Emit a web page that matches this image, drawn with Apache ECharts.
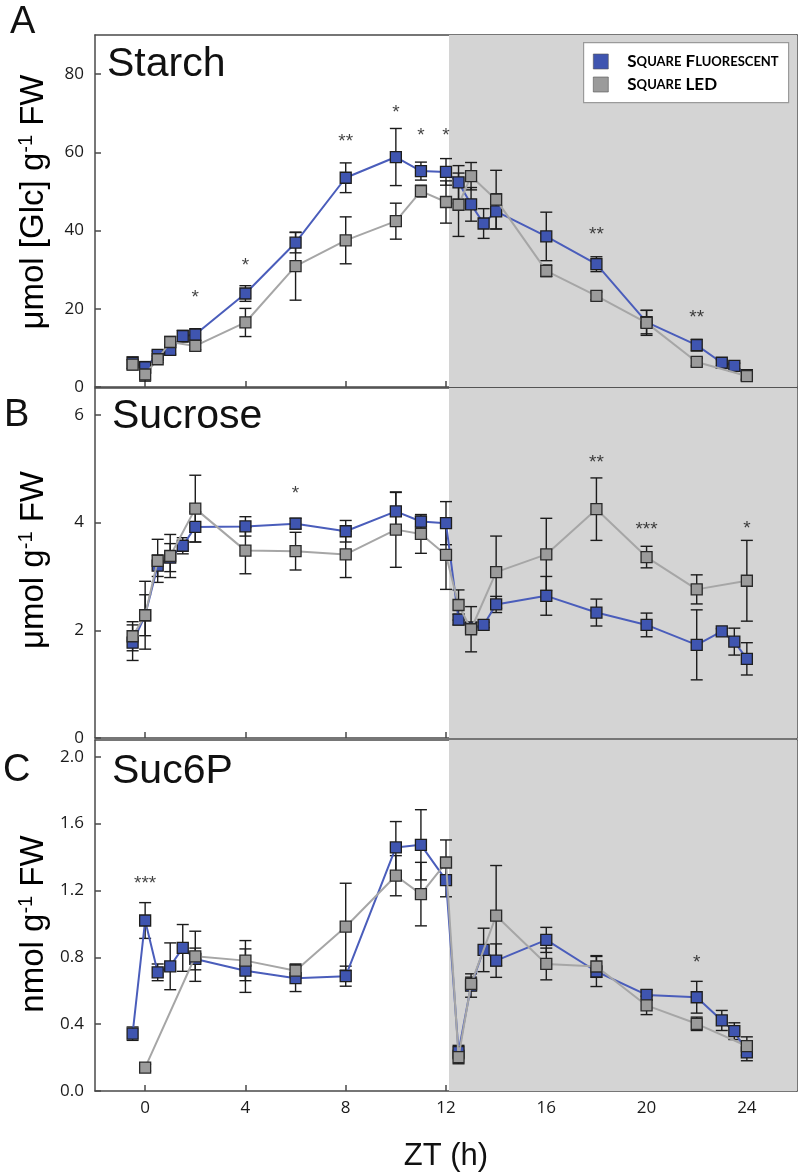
<!DOCTYPE html>
<html><head><meta charset="utf-8">
<script src="https://cdn.jsdelivr.net/npm/echarts@6/dist/echarts.min.js"></script>
<style>html,body{margin:0;padding:0;background:#fff}#c{width:800px;height:1175px}</style>
</head><body><div id="c"></div>
<script>
// ---------- DATA ----------
const seriesNames = ['Square Fluorescent', 'Square LED'];
const panelTitles = ['Starch', 'Sucrose', 'Suc6P'];
const panelLetters = ['A', 'B', 'C'];
const xLabel = 'ZT (h)';
const xTicks = [0, 4, 8, 12, 16, 20, 24];
const yTicksA = [0, 20, 40, 60, 80];
const yTicksB = [0, 2, 4, 6];
const yTicksC = [0, 0.4, 0.8, 1.2, 1.6, 2.0];
const nightStart = 12.12;

// sampling times (ZT, h)
const xFluor = [-0.5, 0, 0.5, 1, 1.5, 2, 4, 6, 8, 10, 11, 12, 12.5, 13, 13.5, 14, 16, 18, 20, 22, 23, 23.5, 24];
const xLedAB = [-0.5, 0, 0.5, 1, 2, 4, 6, 8, 10, 11, 12, 12.5, 13, 14, 16, 18, 20, 22, 24];
const xLedC  = [0, 2, 4, 6, 8, 10, 11, 12, 12.5, 13, 14, 16, 18, 20, 22, 24];

// A: Starch (umol Glc g-1 FW)
const starchFluor    = [6.2, 5.0, 8.2, 9.5, 13.0, 13.4, 23.9, 36.9, 53.5, 58.8, 55.2, 55.0, 52.3, 46.7, 41.8, 44.9, 38.5, 31.4, 16.6, 10.7, 6.2, 5.4, 3.0];
const starchFluorErr = [1.5, 1.5, 1.0, 1.1, 1.5, 1.5, 2.0, 2.6, 3.8, 7.3, 2.3, 3.4, 4.3, 4.3, 3.8, 4.5, 6.2, 1.9, 3.0, 1.5, 0.8, 0.7, 1.0];
const starchLed      = [5.7, 3.2, 7.1, 11.5, 10.5, 16.5, 30.9, 37.5, 42.4, 50.1, 47.3, 46.6, 53.9, 47.9, 29.7, 23.3, 16.4, 6.4, 2.8];
const starchLedErr   = [1.3, 1.7, 0.8, 1.4, 1.0, 3.6, 8.7, 6.0, 4.6, 1.5, 5.4, 8.1, 3.5, 7.5, 1.5, 1.0, 3.2, 1.0, 1.0];
const starsA = [[2, 24.0, '*'], [4, 32.4, '*'], [8, 64.1, '**'], [10, 71.3, '*'], [11, 65.5, '*'], [12, 65.5, '*'], [18, 40.1, '**'], [22, 19.1, '**']];

// B: Sucrose (umol g-1 FW)
const sucFluor    = [1.77, 2.28, 3.2, 3.35, 3.57, 3.92, 3.93, 3.98, 3.84, 4.21, 4.02, 3.99, 2.2, 2.05, 2.1, 2.48, 2.64, 2.33, 2.1, 1.73, 1.98, 1.79, 1.47];
const sucFluorErr = [0.33, 0.38, 0.2, 0.26, 0.15, 0.28, 0.18, 0.1, 0.2, 0.35, 0.1, 0.4, 0.1, 0.1, 0.05, 0.15, 0.36, 0.25, 0.22, 0.65, 0.05, 0.25, 0.3];
const sucLed      = [1.89, 2.28, 3.29, 3.38, 4.26, 3.48, 3.47, 3.41, 3.87, 3.79, 3.4, 2.47, 2.02, 3.08, 3.41, 4.25, 3.36, 2.76, 2.92];
const sucLedErr   = [0.27, 0.63, 0.4, 0.4, 0.62, 0.43, 0.35, 0.43, 0.7, 0.36, 0.64, 0.28, 0.42, 0.67, 0.67, 0.58, 0.2, 0.27, 0.75];
const starsB = [[6, 4.62, '*'], [18, 5.2, '**'], [20, 3.96, '***'], [24, 3.97, '*']];

// C: Suc6P (nmol g-1 FW)
const s6pFluor    = [0.343, 1.02, 0.71, 0.746, 0.856, 0.79, 0.72, 0.675, 0.687, 1.457, 1.473, 1.262, 0.233, 0.631, 0.844, 0.78, 0.904, 0.715, 0.575, 0.561, 0.422, 0.358, 0.231];
const s6pFluorErr = [0.04, 0.107, 0.05, 0.14, 0.14, 0.065, 0.13, 0.08, 0.06, 0.155, 0.21, 0.1, 0.04, 0.07, 0.13, 0.1, 0.075, 0.09, 0.03, 0.095, 0.06, 0.05, 0.05];
const s6pLed      = [0.14, 0.806, 0.78, 0.72, 0.983, 1.288, 1.178, 1.367, 0.203, 0.641, 1.049, 0.76, 0.745, 0.512, 0.402, 0.269];
const s6pLedErr   = [0.02, 0.15, 0.12, 0.04, 0.26, 0.12, 0.19, 0.135, 0.04, 0.04, 0.3, 0.095, 0.065, 0.055, 0.04, 0.055];
const starsC = [[0, 1.27, '***'], [22, 0.80, '*']];

// ---------- STYLE / LAYOUT ----------
const BLUE = '#3f55b0', BLUE_LINE = '#4a5dbb';
const GRAY = '#9b9b9b', GRAY_LINE = '#a6a6a6';
const AXIS = '#4a4a4a';
const NUMFONT = "'Open Sans', sans-serif";
const TXTFONT = "'Liberation Sans', Arial, sans-serif";

const panels = [
  {top: 35, height: 352, max: 90, ticks: yTicksA, fmt: v => String(v),
   fl: starchFluor, flE: starchFluorErr, led: starchLed, ledE: starchLedErr, xLed: xLedAB, stars: starsA},
  {top: 388, height: 350, max: 6.5, ticks: yTicksB, fmt: v => String(v),
   fl: sucFluor, flE: sucFluorErr, led: sucLed, ledE: sucLedErr, xLed: xLedAB, stars: starsB},
  {top: 740, height: 351, max: 2.1, ticks: yTicksC, fmt: v => v.toFixed(1),
   fl: s6pFluor, flE: s6pFluorErr, led: s6pLed, ledE: s6pLedErr, xLed: xLedC, stars: starsC}
];

function errRender(params, api) {
  const x = api.value(0), lo = api.value(1), hi = api.value(2);
  const p1 = api.coord([x, lo]), p2 = api.coord([x, hi]);
  const w = 6;
  const st = {stroke: '#1c1c1c', lineWidth: 1.4};
  return {type: 'group', children: [
    {type: 'line', shape: {x1: p1[0], y1: p1[1], x2: p2[0], y2: p2[1]}, style: st},
    {type: 'line', shape: {x1: p1[0] - w, y1: p1[1], x2: p1[0] + w, y2: p1[1]}, style: st},
    {type: 'line', shape: {x1: p2[0] - w, y1: p2[1], x2: p2[0] + w, y2: p2[1]}, style: st}
  ]};
}
function shadeRender(params, api) {
  const cs = params.coordSys;
  const p = api.coord([api.value(0), 0]);
  return {type: 'rect', shape: {x: p[0], y: cs.y, width: cs.x + cs.width - p[0], height: cs.height},
          style: {fill: '#d4d4d4'}};
}

const grid = [], xAxis = [], yAxis = [], series = [];
panels.forEach((P, i) => {
  grid.push({left: 95, width: 702, top: P.top, height: P.height, containLabel: false});
  const last = i === 2;
  xAxis.push({type: 'value', gridIndex: i, min: -2, max: 26, position: 'bottom',
    axisLine: {show: true, onZero: false, lineStyle: {color: AXIS, width: 1.5}},
    axisTick: {show: true, inside: true, length: 6, customValues: xTicks, lineStyle: {color: AXIS, width: 1.5}},
    axisLabel: {show: last, customValues: xTicks, margin: 9, fontSize: 17, fontFamily: NUMFONT, color: '#1a1a1a'},
    splitLine: {show: false},
    name: last ? xLabel : '', nameLocation: 'middle', nameGap: 50,
    nameTextStyle: {fontSize: 31, fontFamily: TXTFONT, color: '#111'}
  });
  xAxis.push({type: 'value', gridIndex: i, min: -2, max: 26, position: 'top',
    axisLine: {show: true, onZero: false, lineStyle: {color: AXIS, width: 1.5}},
    axisTick: {show: false}, axisLabel: {show: false}, splitLine: {show: false}});
  yAxis.push({type: 'value', gridIndex: i, min: 0, max: P.max, position: 'left',
    axisLine: {show: true, onZero: false, lineStyle: {color: AXIS, width: 1.5}},
    axisTick: {show: true, inside: true, length: 6, customValues: P.ticks, lineStyle: {color: AXIS, width: 1.5}},
    axisLabel: {show: true, customValues: P.ticks, formatter: P.fmt, margin: 11, fontSize: 17, fontFamily: NUMFONT, color: '#1a1a1a'},
    splitLine: {show: false}});
  yAxis.push({type: 'value', gridIndex: i, min: 0, max: P.max, position: 'right',
    axisLine: {show: true, onZero: false, lineStyle: {color: AXIS, width: 1.5}},
    axisTick: {show: false}, axisLabel: {show: false}, splitLine: {show: false}});
  const xi = i * 2, yi = i * 2;
  series.push({type: 'custom', xAxisIndex: xi, yAxisIndex: yi, z: 1, silent: true,
    renderItem: shadeRender, data: [[nightStart]], clip: true});
  series.push({type: 'custom', xAxisIndex: xi, yAxisIndex: yi, z: 2, silent: true, renderItem: errRender,
    data: xFluor.map((x, k) => [x, P.fl[k] - P.flE[k], P.fl[k] + P.flE[k]])});
  series.push({type: 'custom', xAxisIndex: xi, yAxisIndex: yi, z: 2, silent: true, renderItem: errRender,
    data: P.xLed.map((x, k) => [x, P.led[k] - P.ledE[k], P.led[k] + P.ledE[k]])});
  series.push({type: 'line', name: seriesNames[0], xAxisIndex: xi, yAxisIndex: yi, z: 3,
    data: xFluor.map((x, k) => [x, P.fl[k]]),
    symbol: 'rect', symbolSize: 11, showSymbol: true,
    itemStyle: {color: BLUE, borderColor: '#1e1e1e', borderWidth: 1.3},
    lineStyle: {color: BLUE_LINE, width: 2}});
  series.push({type: 'line', name: seriesNames[1], xAxisIndex: xi, yAxisIndex: yi, z: 4,
    data: P.xLed.map((x, k) => [x, P.led[k]]),
    symbol: 'rect', symbolSize: 11, showSymbol: true,
    itemStyle: {color: GRAY, borderColor: '#2a2a2a', borderWidth: 1.3},
    lineStyle: {color: GRAY_LINE, width: 2}});
  series.push({type: 'scatter', xAxisIndex: xi, yAxisIndex: yi, z: 5, silent: true,
    symbolSize: 1, itemStyle: {color: 'rgba(0,0,0,0)'},
    data: P.stars,
    label: {show: true, position: 'inside', formatter: p => p.value[2], offset: [0, 5],
      fontSize: 19, fontFamily: TXTFONT, color: '#111'}});
});

function smallCaps(name) {
  const words = name.split(' ');
  return '{sp| }' + words.map(w => {
    let out = '', run = '', runBig = null;
    for (const ch of w) {
      const big = ch === ch.toUpperCase();
      if (runBig !== null && big !== runBig) { out += `{${runBig ? 'b' : 's'}|${run.toUpperCase()}}`; run = ''; }
      run += ch; runBig = big;
    }
    if (run) out += `{${runBig ? 'b' : 's'}|${run.toUpperCase()}}`;
    return out;
  }).join('{b| }');
}

const LFONT = "Lato, 'Open Sans', sans-serif";
const yNameRich = {
  a: {fontSize: 33, fontFamily: TXTFONT, color: '#111'},
  s: {fontSize: 20, fontFamily: TXTFONT, color: '#111', padding: [0, 0, 16, 0]}
};
const graphic = [
  {type: 'rect', z: 10, left: 583, top: 42, shape: {width: 205, height: 60},
   style: {fill: '#fff', stroke: '#9a9a9a', lineWidth: 1.2}},
  {type: 'text', z: 10, x: 10, y: 4, style: {text: panelLetters[0], font: `38px ${TXTFONT}`, fill: '#111', verticalAlign: 'top'}},
  {type: 'text', z: 10, x: 4, y: 397, style: {text: panelLetters[1], font: `38px ${TXTFONT}`, fill: '#111', verticalAlign: 'top'}},
  {type: 'text', z: 10, x: 3, y: 752, style: {text: panelLetters[2], font: `38px ${TXTFONT}`, fill: '#111', verticalAlign: 'top'}},
  {type: 'text', z: 10, x: 107, y: 44, style: {text: panelTitles[0], font: `41px ${TXTFONT}`, fill: '#111', verticalAlign: 'top'}},
  {type: 'text', z: 10, x: 112, y: 396, style: {text: panelTitles[1], font: `41px ${TXTFONT}`, fill: '#111', verticalAlign: 'top'}},
  {type: 'text', z: 10, x: 112, y: 751, style: {text: panelTitles[2], font: `41px ${TXTFONT}`, fill: '#111', verticalAlign: 'top'}},
  {type: 'text', z: 10, x: 34, y: 202, rotation: Math.PI / 2,
   style: {text: '{a|μmol [Glc] g}{s|-1}{a| FW}', rich: yNameRich, align: 'center', verticalAlign: 'middle'}},
  {type: 'text', z: 10, x: 34, y: 560, rotation: Math.PI / 2,
   style: {text: '{a|μmol g}{s|-1}{a| FW}', rich: yNameRich, align: 'center', verticalAlign: 'middle'}},
  {type: 'text', z: 10, x: 34, y: 924, rotation: Math.PI / 2,
   style: {text: '{a|nmol g}{s|-1}{a| FW}', rich: yNameRich, align: 'center', verticalAlign: 'middle'}}
];

const chart = echarts.init(document.getElementById('c'), null, {renderer: 'canvas'});
chart.setOption({
  animation: false,
  backgroundColor: '#fff',
  grid, xAxis, yAxis, series, graphic,
  legend: {
    data: seriesNames.map(n => ({name: n, icon: 'rect'})),
    orient: 'vertical', left: 593, top: 53, padding: 0,
    itemWidth: 15, itemHeight: 15, itemGap: 6, selectedMode: false, z: 20,
    itemStyle: {borderWidth: 0.6, borderColor: '#555'},
    formatter: smallCaps,
    textStyle: {rich: {
      sp: {width: 14, fontSize: 17, lineHeight: 15},
      b: {fontSize: 17, fontWeight: 'bold', fontFamily: LFONT, color: '#000', lineHeight: 15},
      s: {fontSize: 13, fontWeight: 'bold', fontFamily: LFONT, color: '#000', lineHeight: 15}
    }}
  }
});
</script></body></html>
